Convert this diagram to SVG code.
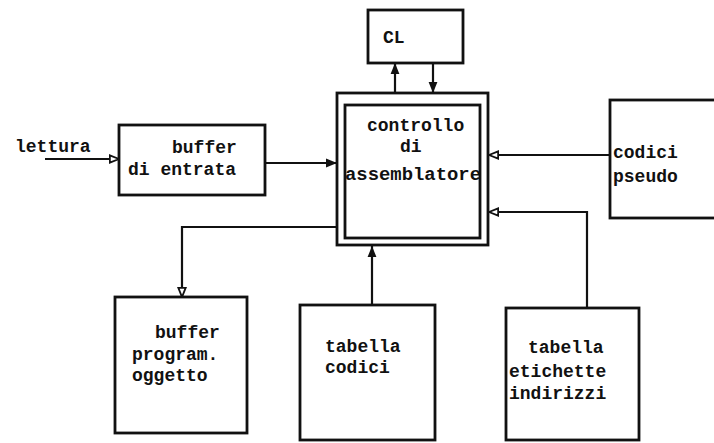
<svg xmlns="http://www.w3.org/2000/svg" width="714" height="443" viewBox="0 0 714 443">
<defs>
<style>
.box{fill:none;stroke:#111;stroke-width:2.8}
.ln{fill:none;stroke:#111;stroke-width:2.2}
text{font-family:"Liberation Mono","Courier New",monospace;font-size:18px;font-weight:bold;fill:#111}
</style>
<marker id="af" viewBox="0 0 10 10" refX="10" refY="5" markerWidth="5" markerHeight="5" orient="auto" markerUnits="strokeWidth">
<path d="M0,1 L10,5 L0,9 z" fill="#111"/>
</marker>
<marker id="ao" viewBox="0 0 12 12" refX="11" refY="6" markerWidth="5" markerHeight="5" orient="auto" markerUnits="strokeWidth">
<path d="M1,2 L11,6 L1,10 z" fill="#fff" stroke="#111" stroke-width="2"/>
</marker>
</defs>
<rect width="714" height="443" fill="#fff"/>

<g id="connectors">
<line class="ln" x1="45" y1="159" x2="119" y2="159" marker-end="url(#ao)"/>
<line class="ln" x1="265" y1="163" x2="337" y2="163" marker-end="url(#af)"/>
<line class="ln" x1="395" y1="93" x2="395" y2="63" marker-end="url(#af)"/>
<line class="ln" x1="433" y1="63" x2="433" y2="93" marker-end="url(#af)"/>
<line class="ln" x1="610" y1="155" x2="489" y2="155" marker-end="url(#ao)"/>
<polyline class="ln" points="587,308 587,212 489,212" marker-end="url(#ao)"/>
<polyline class="ln" points="337,227 182,227 182,297" marker-end="url(#ao)"/>
<line class="ln" x1="372" y1="305" x2="372" y2="246" marker-end="url(#af)"/>
</g>

<g id="lettura">
<text x="15" y="152">lettura</text>
</g>

<g id="buffer-entrata">
<rect class="box" x="119" y="125" width="146" height="70"/>
<text x="172" y="153">buffer</text>
<text x="128" y="175">di entrata</text>
</g>

<g id="cl">
<rect class="box" x="368" y="10" width="95" height="53"/>
<text x="383" y="43">CL</text>
</g>

<g id="controllo">
<rect class="box" x="337" y="93" width="151" height="152"/>
<rect class="box" x="345" y="105" width="135" height="133"/>
<text x="367" y="131">controllo</text>
<text x="400" y="152">di</text>
<text x="345" y="180" textLength="136" lengthAdjust="spacingAndGlyphs">assemblatore</text>
</g>

<g id="codici-pseudo">
<rect class="box" x="610" y="100" width="110" height="118"/>
<text x="613" y="158">codici</text>
<text x="613" y="182">pseudo</text>
</g>

<g id="buffer-programma">
<rect class="box" x="115" y="297" width="132" height="136"/>
<text x="155" y="338">buffer</text>
<text x="132" y="360">program.</text>
<text x="132" y="381">oggetto</text>
</g>

<g id="tabella-codici">
<rect class="box" x="300" y="305" width="135" height="135"/>
<text x="325" y="352">tabella</text>
<text x="325" y="373">codici</text>
</g>

<g id="tabella-etichette">
<rect class="box" x="506" y="308" width="133" height="132"/>
<text x="528" y="353">tabella</text>
<text x="509" y="377">etichette</text>
<text x="509" y="399">indirizzi</text>
</g>
</svg>
